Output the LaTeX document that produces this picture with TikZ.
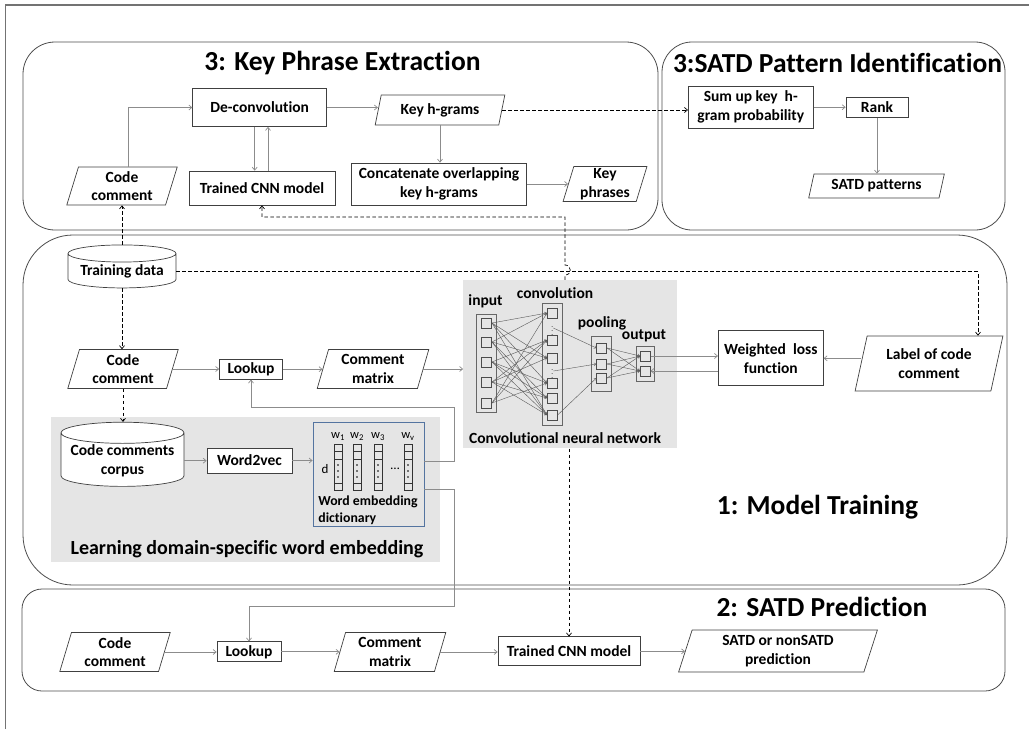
\documentclass[tikz,border=0pt]{standalone}
\usepackage{fontspec}
\setmainfont{Carlito}[Ligatures=CommonOff]
\usetikzlibrary{shapes.geometric,arrows.meta,calc}
\definecolor{dictblue}{RGB}{84,116,160}
\newcommand\nodefont{\fontsize{15.5}{18.7}\selectfont\bfseries}
\newcommand\headfont{\fontsize{27.5}{33}\selectfont\bfseries}

\begin{document}
\begin{tikzpicture}[x=1pt,y=-1pt,
  proc/.style={rectangle, draw=black!75, line width=0.7pt, fill=white, align=center, inner sep=1pt, font=\nodefont},
  io/.style={trapezium, trapezium left angle=75, trapezium right angle=105, trapezium stretches=true, draw=black!75, line width=0.7pt, fill=white, align=center, inner sep=1pt, font=\nodefont},
  store/.style={cylinder, shape border rotate=90, aspect=0.2, draw=black!75, line width=0.7pt, fill=white, align=center, inner sep=1pt, font=\nodefont},
  phase/.style={draw=black!70, line width=0.8pt},
  panel/.style={fill=black!10, inner sep=0pt},
  head/.style={font=\headfont, inner sep=0pt},
  lbl/.style={font=\nodefont, inner sep=0pt},
  flow/.style={draw=black!45, line width=0.7pt, -{Straight Barb[length=3pt,width=5pt]}},
  dflow/.style={draw=black, dash pattern=on 3.5pt off 2.5pt, line width=0.7pt, -{Straight Barb[length=3pt,width=5pt]}},
  cell/.style={rectangle, draw=black!70, line width=0.6pt, minimum size=10pt, inner sep=0pt},
  layer/.style={rectangle, draw=black!60, line width=0.7pt, inner sep=0pt},
  wire/.style={draw=black!65, line width=0.4pt, -{Straight Barb[length=2pt,width=3pt]}},
  vec/.style={rectangle, draw=black!80, line width=0.7pt, minimum width=8pt, minimum height=46pt, inner sep=0pt}
]
\useasboundingbox (0,0) rectangle (1032,729);
\draw[black!55, line width=1.5pt] (5.5,729) -- (5.5,5) -- (1029,5);

\draw[phase, rounded corners=32] (23,42) rectangle (658,230);
\draw[phase, rounded corners=30] (662,42) rectangle (1005,230);
\draw[phase, rounded corners=50] (23,235) rectangle (1007,585);
\draw[phase, rounded corners=20] (22,589) rectangle (1005,691);

\node[head] (hkpe) at (342.5,63.3) {3: Key Phrase Extraction};
\node[proc, minimum width=134pt, minimum height=38pt] (deconv) at (259.7,107.5) {De-convolution};
\node[io, minimum width=130pt, minimum height=30pt] (khg) at (440,110) {Key h-grams};
\node[io, minimum width=111pt, minimum height=38pt] (kcc) at (122,186) {Code\\comment};
\node[proc, minimum width=146pt, minimum height=34pt] (kcnn) at (262,188) {Trained CNN model};
\node[proc, minimum width=175pt, minimum height=42pt] (concat) at (439,184) {Concatenate overlapping\\key h-grams};
\node[io, minimum width=84pt, minimum height=35pt] (kphr) at (605,184) {Key\\phrases};

\node[head] (hsatd) at (837.5,63.3) {3:SATD Pattern Identification};
\node[proc, minimum width=125pt, minimum height=42pt] (sumup) at (750.8,107.2) {Sum up key\ \ h-\\gram probability};
\node[proc, minimum width=62pt, minimum height=20pt] (rank) at (877,107.5) {Rank};
\node[io, minimum width=137pt, minimum height=24pt] (pat) at (876.5,186) {SATD patterns};

\node[head] (htrain) at (817.5,506.7) {1: Model Training};
\node[store, minimum width=108pt, minimum height=43pt] (tdata) at (122,271.7) {Training data};
\node[io, minimum width=111pt, minimum height=39pt] (tcc) at (123,369) {Code\\comment};
\node[proc, minimum width=63pt, minimum height=20pt] (tlook) at (251,369.2) {Lookup};
\node[io, minimum width=112pt, minimum height=39pt] (tcm) at (373,369) {Comment\\matrix};
\node[proc, minimum width=105pt, minimum height=55pt] (wloss) at (770.8,358.3) {Weighted\ \ loss\\function};
\node[io, minimum width=148pt, minimum height=55pt] (lab) at (929,363.5) {Label of code\\comment};

\node[panel, minimum width=213.4pt, minimum height=168.3pt] (cnn) at (570,364.2) {};
\node[lbl] (cnnlab) at (565,438.3) {Convolutional neural network};
\node[lbl] (tin) at (485.5,301) {input};
\node[lbl] (tconv) at (555,293.3) {convolution};
\node[lbl] (tpool) at (602,323.3) {pooling};
\node[lbl] (tout) at (644,336) {output};
\node[layer, minimum width=20pt, minimum height=98.7pt] (lin) at (486.7,363.3) {};
\node[layer, minimum width=20.4pt, minimum height=121.7pt] (lconv) at (552.5,364.2) {};
\node[layer, minimum width=20pt, minimum height=55.7pt] (lpool) at (601.7,363.8) {};
\node[layer, minimum width=18.3pt, minimum height=35pt] (lout) at (645.2,363.5) {};
\foreach \y [count=\i] in {323,342,362,382,403}
  \node[cell] (i\i) at (486.7,\y) {};
\foreach \y [count=\i] in {313,340,358,383,398,415}
  \node[cell] (c\i) at (552.3,\y) {};
\node[inner sep=0pt, font=\fontsize{7}{7}\selectfont] (d1) at (552.3,328) {$\vdots$};
\node[inner sep=0pt, font=\fontsize{7}{7}\selectfont] (d2) at (552.3,371) {$\vdots$};
\foreach \y [count=\i] in {348,364,378}
  \node[cell] (p\i) at (601.7,\y) {};
\foreach \y [count=\i] in {356,371}
  \node[cell] (o\i) at (645.2,\y) {};
\foreach \a/\b in {1/1,1/3,1/4,1/6,2/1,2/3,2/5,2/6,3/2,3/4,3/5,3/6,4/2,4/3,4/5,4/6,5/1,5/2,5/4}
  \draw[wire] (i\a.east) -- (c\b.west);
\draw[wire] (d1.east) -- (p1.west);
\draw[wire] (d2.east) -- (p2.west);
\draw[wire] (c6.east) -- (p3.west);
\foreach \a in {1,2,3}
  \foreach \b in {1,2}
    \draw[wire] (p\a.east) -- (o\b.west);

\node[panel, minimum width=389pt, minimum height=145pt] (wemb) at (245.5,489.2) {};
\node[lbl, font=\fontsize{20}{24}\selectfont\bfseries] (wemblab) at (247,549) {Learning domain-specific word embedding};
\node[store, minimum width=123pt, minimum height=60pt] (corpus) at (122.5,460.7) {Code comments\\corpus};
\node[proc, minimum width=85pt, minimum height=25pt] (w2v) at (249.5,460.5) {Word2vec};
\node[rectangle, draw=dictblue, line width=0.8pt, minimum width=111pt, minimum height=104pt, inner sep=0pt] (dict) at (368.5,473.9) {};
\foreach \x/\s [count=\i] in {338/1,357/2,378/3,408/v} {
  \node[vec] (v\i) at (\x,467) {};
  \draw[black!80, line width=0.7pt] (\x-4,451.7) -- (\x+4,451.7) (\x-4,459.3) -- (\x+4,459.3) (\x-4,483.3) -- (\x+4,483.3);
  \foreach \yy in {465,471,477}
    \fill (\x,\yy) circle (0.8);
  \node[inner sep=0pt, font=\fontsize{12.5}{12.5}\selectfont] (wl\i) at (\x,436.7) {w\textsubscript{\s}};
}
\node[inner sep=0pt, font=\fontsize{13}{13}\selectfont] (dimd) at (325,469) {d};
\node[inner sep=0pt, font=\fontsize{13}{13}\selectfont] (dimdots) at (395,469) {\ldots};
\node[lbl, font=\fontsize{13.8}{17}\selectfont\bfseries, align=left] (dictlab) at (368,510.5) {Word embedding\\dictionary};

\node[head] (hpred) at (822,606.7) {2: SATD Prediction};
\node[io, minimum width=111pt, minimum height=39pt] (pcc) at (115,652) {Code\\comment};
\node[proc, minimum width=64pt, minimum height=20pt] (plook) at (249,651.8) {Lookup};
\node[io, minimum width=112pt, minimum height=39pt] (pcm) at (390,652) {Comment\\matrix};
\node[proc, minimum width=142pt, minimum height=29pt] (pcnn) at (569,651.3) {Trained CNN model};
\node[io, minimum width=199pt, minimum height=42pt] (pout) at (778,651) {SATD or nonSATD\\prediction};

\draw[flow] ([xshift=6pt]kcc.north) |- (deconv.west);
\draw[flow] (deconv.east) -- (deconv.east -| khg.west);
\draw[flow] ([xshift=-5pt]deconv.south) -- ([xshift=-5pt]deconv.south |- kcnn.north);
\draw[flow] ([xshift=6pt]kcnn.north) -- ([xshift=6pt]kcnn.north |- deconv.south);
\draw[flow] (khg.south) -- (khg.south |- concat.north);
\draw[flow] (concat.east) -- (concat.east -| kphr.west);
\draw[dflow] (khg.east) -- (khg.east -| sumup.west);
\draw[flow] (sumup.east) -- (sumup.east -| rank.west);
\draw[flow] (rank.south) -- (rank.south |- pat.north);

\coordinate (labin) at ($(lab.north)+(49,0)$);
\coordinate (hop) at (565,270);
\coordinate (turn) at (565,217);
\draw[dflow] (tdata.north) -- (tdata.north |- kcc.south);
\draw[dflow] (tdata.east) -| (labin);
\draw[dflow] (tdata.south) -- (tdata.south |- tcc.north);
\draw[dflow] (tcc.south) -- (tcc.south |- corpus.north);
\draw[dflow] (hop |- cnn.north) -- ([yshift=-5pt]hop) .. controls +(7,0) and +(7,0) .. ([yshift=5pt]hop) -- (turn) -| (kcnn.south);
\draw[dflow] (cnn.south -| pcnn.north) -- (pcnn.north);

\draw[flow] (tcc.east) -- (tcc.east -| tlook.west);
\draw[flow] (tlook.east) -- (tlook.east -| tcm.west);
\draw[flow] (tcm.east) -- (tcm.east -| cnn.west);
\draw[flow] (corpus.east) -- (corpus.east -| w2v.west);
\draw[flow] (w2v.east) -- (w2v.east -| dict.west);
\draw[flow] ([yshift=13pt]dict.east) -- ++(30,0) |- ([yshift=-27.5pt]tlook.south) -- (tlook.south);
\draw[flow] ([yshift=-15pt]dict.east) -- ++(30,0) |- ([yshift=35pt]plook.north) -- (plook.north);
\draw[flow] (o1.east) -- (o1.east -| wloss.west);
\draw[flow] (o2.east -| wloss.west) -- (o2.east);
\draw[flow] (lab.west |- wloss.east) -- (wloss.east);

\draw[flow] (pcc.east) -- (pcc.east -| plook.west);
\draw[flow] (plook.east) -- (plook.east -| pcm.west);
\draw[flow] (pcm.east) -- (pcm.east -| pcnn.west);
\draw[flow] (pcnn.east) -- (pcnn.east -| pout.west);
\end{tikzpicture}
\end{document}
